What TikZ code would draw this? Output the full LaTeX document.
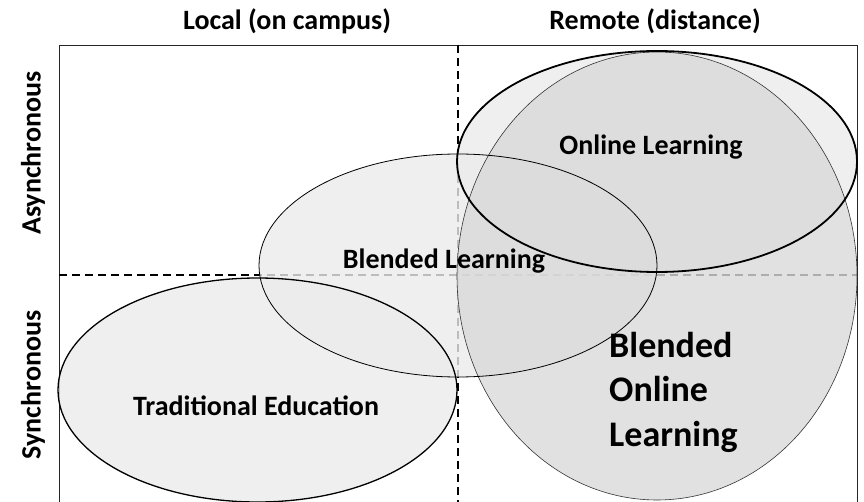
\documentclass[tikz,border=0pt]{standalone}
\usepackage{fontspec}
\setmainfont{Carlito}
\begin{document}
\begin{tikzpicture}[x=1pt,y=-1pt,
  lbl/.style={font=\bfseries\fontsize{28}{32}\selectfont, inner sep=0pt},
  big/.style={font=\bfseries\fontsize{36}{44.5}\selectfont, inner sep=0pt, align=left},
  fillA/.style={fill=black!8, fill opacity=0.8},
  fillB/.style={fill=black!15, fill opacity=0.8},
  dsh/.style={dashed, dash pattern=on 8pt off 5pt, line width=1.5pt}]
\useasboundingbox (0,0) rectangle (864,502);
% frame
\draw[line width=0.9pt, black!85] (59,502) -- (59,45) -- (857,45) -- (857,502);
% dashed axes
\coordinate (vt) at (458,45);
\coordinate (vb) at (458,502);
\coordinate (hl) at (59,275);
\coordinate (hr) at (857,275);
\draw[dsh] (vt) -- (vb);
\draw[dsh] (hl) -- (hr);
% fills
\path[fillA] (257.5,390) ellipse [x radius=199.5pt, y radius=112pt];
\path[fillA] (458,265.5) ellipse [x radius=199pt, y radius=111.5pt];
\path[fillA] (657,161.5) ellipse [x radius=200pt, y radius=110.5pt];
\path[fillB] (657,276) ellipse [x radius=200pt, y radius=224pt];
% outlines
\draw[line width=0.6pt, black!80] (657,276) ellipse [x radius=200pt, y radius=224pt];
\draw[line width=0.8pt] (458,265.5) ellipse [x radius=199pt, y radius=111.5pt];
\draw[line width=1.3pt] (257.5,390) ellipse [x radius=199.5pt, y radius=112pt];
\draw[line width=1.8pt] (657,161.5) ellipse [x radius=200pt, y radius=110.5pt];
% labels
\node[lbl] (local) at (287,21) {Local (on campus)};
\node[lbl] (remote) at (655,21) {Remote (distance)};
\node[lbl, rotate=90] (async) at (33,153) {Asynchronous};
\node[lbl, rotate=90] (sync) at (33,385) {Synchronous};
\node[lbl] (trad) at (256,406) {Traditional Education};
\node[lbl] (blend) at (444,261) {Blended Learning};
\node[lbl] (online) at (651,147) {Online Learning};
\node[big, anchor=north west] (bol) at (609,332) {Blended\\Online\\Learning};
\end{tikzpicture}
\end{document}
